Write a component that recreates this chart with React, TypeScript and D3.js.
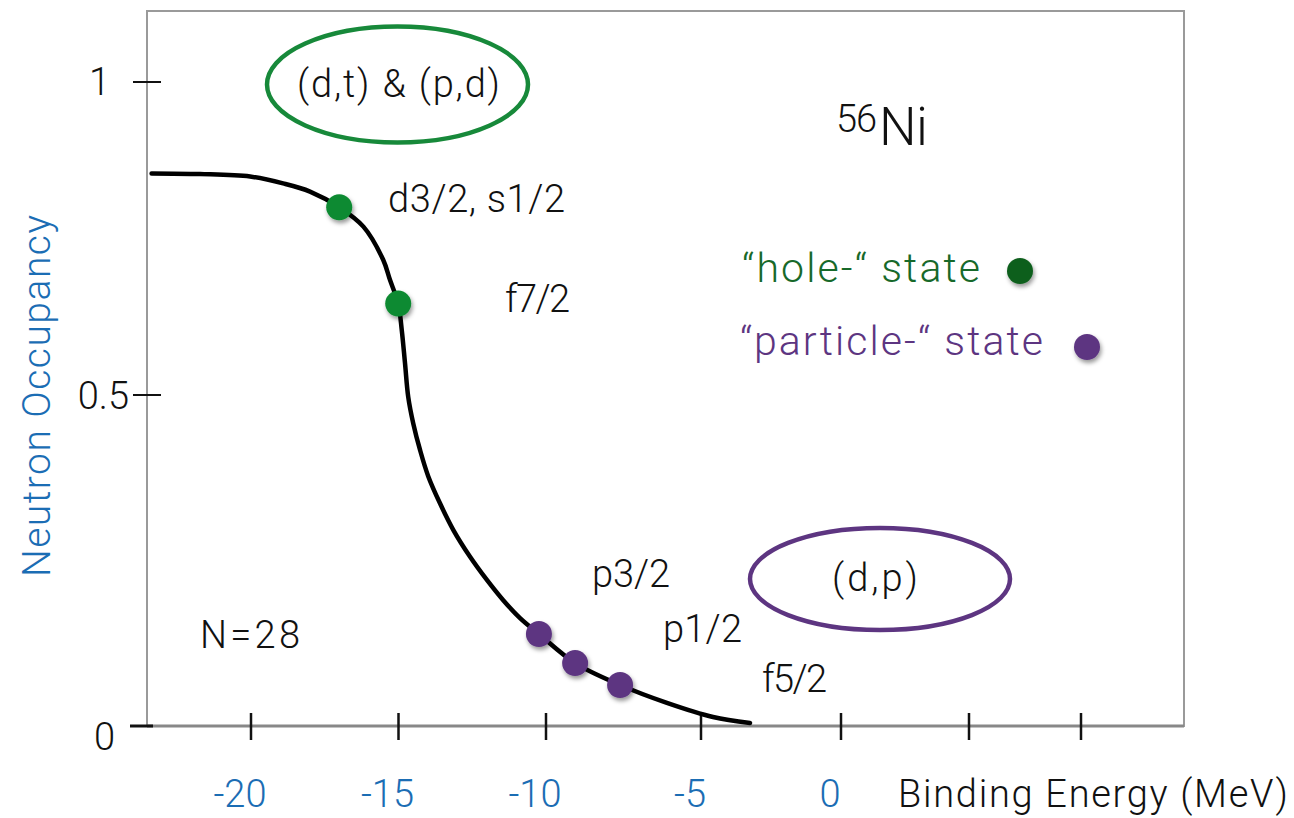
import React from "react";
import * as d3 from "d3";

// Axis ticks (binding energy in MeV, occupancy)
const xTickValues = [-20, -15, -10, -5, 0, 5, 10];
const xTickLabels = ["-20", "-15", "-10", "-5", "0", "", ""];
const yTickValues = [0, 0.5, 1];
const yTickLabels = ["0", "0.5", "1"];

// Occupancy curve traced as (energy, occupancy)
const curveEnergy = [-23.37, -21.73, -20.03, -18.91, -18.0, -17.01, -16.19, -15.52, -15.29, -15.01, -14.89, -14.78, -14.67, -14.5, -14.27, -13.99, -13.59, -13.14, -12.58, -12.01, -11.45, -10.88, -10.24, -9.06, -7.61, -6.1, -4.57, -3.25];
const curveOccupancy = [0.854, 0.853, 0.849, 0.838, 0.825, 0.8, 0.769, 0.716, 0.684, 0.646, 0.604, 0.551, 0.497, 0.457, 0.417, 0.377, 0.336, 0.296, 0.256, 0.221, 0.19, 0.163, 0.139, 0.095, 0.062, 0.035, 0.0136, 0.0045];

// Hole states (green) and particle states (purple)
const holeEnergy = [-17.01, -15.01];
const holeOccupancy = [0.8, 0.646];
const particleEnergy = [-10.24, -9.06, -7.61];
const particleOccupancy = [0.139, 0.095, 0.062];

const W = 1294;
const H = 818;

// Hand-spaced axis: tick positions are not uniform
const x = d3.scaleLinear().domain(xTickValues).range([251, 398.5, 546, 701, 841, 969, 1081]);
const y = d3.scaleLinear().domain(yTickValues).range([726, 395, 82]);

const FONT = "Roboto, 'Liberation Sans', sans-serif";
const BLUE = "#1b6db4";
const GREEN = "#0b8a30";
const DARK_GREEN = "#0f5f1e";
const PURPLE = "#5d3581";
const TEXT = "#111";

const curvePts: [number, number][] = curveEnergy.map((e, i) => [e, curveOccupancy[i]]);
const line = d3
  .line<[number, number]>()
  .x((d) => x(d[0]))
  .y((d) => y(d[1]))
  .curve(d3.curveCatmullRom.alpha(0.5));

const yLabelDx: Record<string, number> = { "0": -32, "0.5": -18, "1": -37 };
const yLabelDy: Record<string, number> = { "0": 24, "0.5": 14, "1": 13 };

type LabelProps = {
  x: number;
  y: number;
  len?: number;
  size?: number;
  fill?: string;
  anchor?: "start" | "middle" | "end";
  children: React.ReactNode;
};

function Label({ x, y, len, size = 38, fill = TEXT, anchor = "start", children }: LabelProps) {
  return (
    <text
      x={x}
      y={y}
      fontSize={size}
      fill={fill}
      textAnchor={anchor}
      textLength={len}
      lengthAdjust={len ? "spacing" : undefined}
    >
      {children}
    </text>
  );
}

export default function App() {
  const frame = { left: 147, right: 1184, top: 11, bottom: y(0) };
  return (
    <svg
      width={W}
      height={H}
      viewBox={`0 0 ${W} ${H}`}
      style={{ position: "absolute", left: 0, top: 0, background: "#fff" }}
      fontFamily={FONT}
      fontWeight={300}
    >
      <defs>
        <filter id="dotShadow" x="-50%" y="-50%" width="200%" height="200%">
          <feDropShadow dx="1.5" dy="3" stdDeviation="2" floodColor="#000" floodOpacity="0.4" />
        </filter>
      </defs>
      <rect width={W} height={H} fill="#fff" />

      {/* plot frame */}
      <rect
        x={frame.left}
        y={frame.top}
        width={frame.right - frame.left}
        height={frame.bottom - frame.top}
        fill="none"
        stroke="#9a9a9a"
        strokeWidth={2}
      />
      <line x1={frame.left} x2={frame.right} y1={y(0)} y2={y(0)} stroke="#888" strokeWidth={3} />

      {/* y ticks */}
      {yTickValues.map((v, i) => (
        <g key={`yt${i}`}>
          <line
            x1={v === 0 ? 130 : 133}
            x2={v === 0 ? 153 : 161}
            y1={y(v)}
            y2={y(v)}
            stroke="#111"
            strokeWidth={v === 0 ? 3 : 2}
          />
          <Label x={frame.left + yLabelDx[yTickLabels[i]]} y={y(v) + yLabelDy[yTickLabels[i]]} anchor="end">
            {yTickLabels[i]}
          </Label>
        </g>
      ))}

      {/* x ticks */}
      {xTickValues.map((v, i) => (
        <g key={`xt${i}`}>
          <line x1={x(v)} x2={x(v)} y1={713} y2={740} stroke="#111" strokeWidth={2.5} />
          {xTickLabels[i] && (
            <Label x={x(v) - 11} y={807} anchor="middle" fill={BLUE}>
              {xTickLabels[i]}
            </Label>
          )}
        </g>
      ))}

      <Label x={898} y={807} len={390}>Binding Energy (MeV)</Label>
      <text
        transform={`translate(50, 396) rotate(-90)`}
        textAnchor="middle"
        fontSize={39}
        fill={BLUE}
        textLength={362}
        lengthAdjust="spacing"
      >
        Neutron Occupancy
      </text>

      {/* occupancy curve */}
      <path d={line(curvePts) || ""} fill="none" stroke="#000" strokeWidth={4.5} strokeLinecap="round" />

      {/* states */}
      {holeEnergy.map((e, i) => (
        <circle key={`h${i}`} cx={x(e)} cy={y(holeOccupancy[i])} r={13} fill={GREEN} filter="url(#dotShadow)" />
      ))}
      {particleEnergy.map((e, i) => (
        <circle key={`p${i}`} cx={x(e)} cy={y(particleOccupancy[i])} r={13} fill={PURPLE} filter="url(#dotShadow)" />
      ))}

      {/* orbital labels */}
      <Label x={388} y={212} len={177}>d3/2, s1/2</Label>
      <Label x={505} y={312} len={65}>f7/2</Label>
      <Label x={592} y={587} len={78}>p3/2</Label>
      <Label x={663} y={642} len={79}>p1/2</Label>
      <Label x={762} y={692} len={65}>f5/2</Label>
      <Label x={200} y={648} len={100}>N=28</Label>

      {/* reaction ellipses */}
      <ellipse cx={397.5} cy={84.5} rx={130.5} ry={58} fill="none" stroke="#17893a" strokeWidth={4.5} />
      <Label x={297} y={97} len={203}>(d,t) &amp; (p,d)</Label>
      <ellipse cx={880} cy={579} rx={130} ry={51} fill="none" stroke={PURPLE} strokeWidth={4.5} />
      <Label x={832} y={591} len={86}>(d,p)</Label>

      {/* nucleus */}
      <Label x={836} y={132} len={41}>56</Label>
      <Label x={879} y={145} size={53} len={49}>Ni</Label>

      {/* legend */}
      <Label x={742} y={282} size={41} len={238} fill="#17692a">“hole-“ state</Label>
      <circle cx={1020} cy={271} r={13} fill={DARK_GREEN} filter="url(#dotShadow)" />
      <Label x={740} y={355} size={41} len={303} fill={PURPLE}>“particle-“ state</Label>
      <circle cx={1087} cy={347} r={13} fill={PURPLE} filter="url(#dotShadow)" />
    </svg>
  );
}
